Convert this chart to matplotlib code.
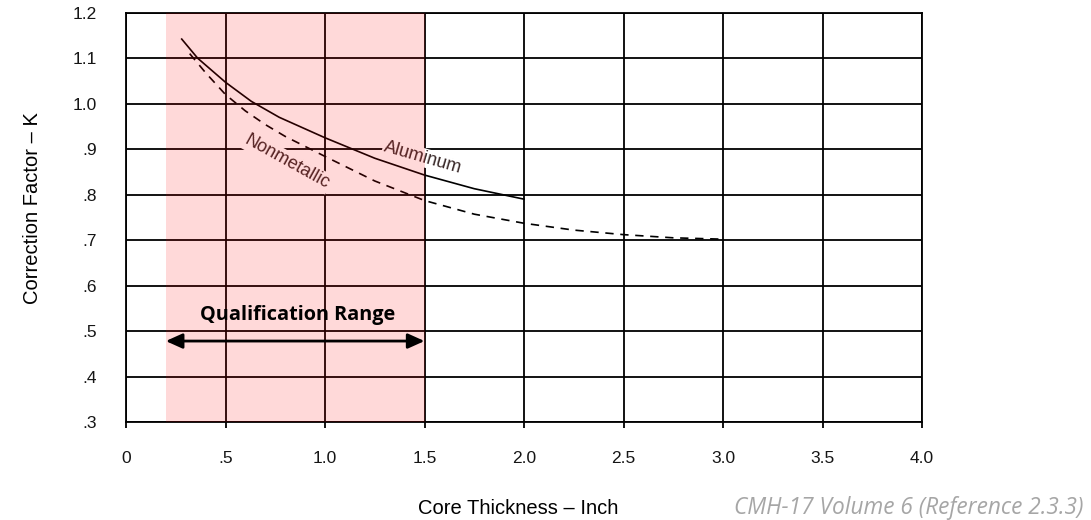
import matplotlib
matplotlib.use("Agg")
import matplotlib.pyplot as plt
import numpy as np

# Data
alu_x = [0.28, 0.36, 0.5, 0.63, 0.77, 1.0, 1.25, 1.5, 1.75, 2.0]
alu_y = [1.142, 1.10, 1.047, 1.005, 0.97, 0.925, 0.88, 0.843, 0.813, 0.79]
non_x = [0.32, 0.4, 0.5, 0.6, 0.7, 0.8, 1.0, 1.25, 1.5, 1.75, 2.0, 2.25, 2.5, 2.75, 3.0]
non_y = [1.11, 1.068, 1.02, 0.984, 0.954, 0.928, 0.884, 0.83, 0.787, 0.757, 0.737, 0.722,
         0.712, 0.705, 0.702]
x_ticks = [0, 0.5, 1.0, 1.5, 2.0, 2.5, 3.0, 3.5, 4.0]
x_ticklabels = ["0", ".5", "1.0", "1.5", "2.0", "2.5", "3.0", "3.5", "4.0"]
y_ticks = [0.3, 0.4, 0.5, 0.6, 0.7, 0.8, 0.9, 1.0, 1.1, 1.2]
y_ticklabels = [".3", ".4", ".5", ".6", ".7", ".8", ".9", "1.0", "1.1", "1.2"]
qual_range = [0.2, 1.5]

plt.rcParams['font.family'] = ['Liberation Sans', 'DejaVu Sans']

fig = plt.figure(figsize=(10.91, 5.2), dpi=100)
ax = fig.add_axes([126/1091, 1 - 422/520, (922-126)/1091, (422-12.7)/520])

ax.set_xlim(0, 4.0)
ax.set_ylim(0.3, 1.2)
ax.set_xticks(x_ticks)
ax.set_xticklabels(x_ticklabels)
ax.set_yticks(y_ticks)
ax.set_yticklabels(y_ticklabels)
ax.tick_params(axis='x', direction='out', length=4, width=1.3, pad=17, labelsize=12.5, colors='black',
               labelcolor='#151515')
ax.tick_params(axis='y', length=0, pad=21, labelsize=12.5, labelcolor='#151515')

ax.grid(True, color='black', linewidth=1.3, zorder=1)
ax.set_axisbelow(True)
for s in ax.spines.values():
    s.set_linewidth(1.3)
    s.set_color('black')

ax.plot(alu_x, alu_y, color='black', linewidth=1.2, zorder=3)
ax.plot(non_x, non_y, color='black', linewidth=1.2, linestyle=(0, (5, 4)), zorder=3)

ax.text(0.81, 0.872, "Nonmetallic", rotation=-29, ha='center', va='center', fontsize=13,
        color='#3a2a2a', zorder=4, rotation_mode='anchor',
        bbox=dict(boxstyle='square,pad=0.1', facecolor='white', edgecolor='none'))
ax.text(1.49, 0.882, "Aluminum", rotation=-16, ha='center', va='center', fontsize=13,
        color='#3a2a2a', zorder=4, rotation_mode='anchor',
        bbox=dict(boxstyle='square,pad=0.05', facecolor='white', edgecolor='none'))

ax.axvspan(qual_range[0], qual_range[1], color='red', alpha=0.15, linewidth=0, zorder=5)

ax.annotate("", xy=(qual_range[0], 0.478), xytext=(qual_range[1], 0.478),
            arrowprops=dict(arrowstyle='<|-|>,head_length=1.0,head_width=0.45', color='black',
                            linewidth=2, shrinkA=0, shrinkB=0), zorder=6)
ax.text(0.86, 0.535, "Qualification Range", ha='center', va='center', fontsize=14.3,
        fontweight='bold', family=['Open Sans', 'DejaVu Sans'], color='black', zorder=6)

ax.set_xlabel("Core Thickness – Inch", fontsize=14.5, color='black', va='center')
ax.xaxis.set_label_coords((518-126)/796, (422-508)/409.3)
ax.set_ylabel("Correction Factor – K", fontsize=14.5, color='black', va='center')
ax.yaxis.set_label_coords((33-126)/796, (422-208)/409.3)

fig.text(1083/1091, 1 - 508/520, "CMH-17 Volume 6 (Reference 2.3.3)", ha='right', va='center',
         fontsize=16.3, style='italic', color='#a6a6a6', family=['Open Sans', 'DejaVu Sans'])

fig.savefig("out.png", dpi=100)
